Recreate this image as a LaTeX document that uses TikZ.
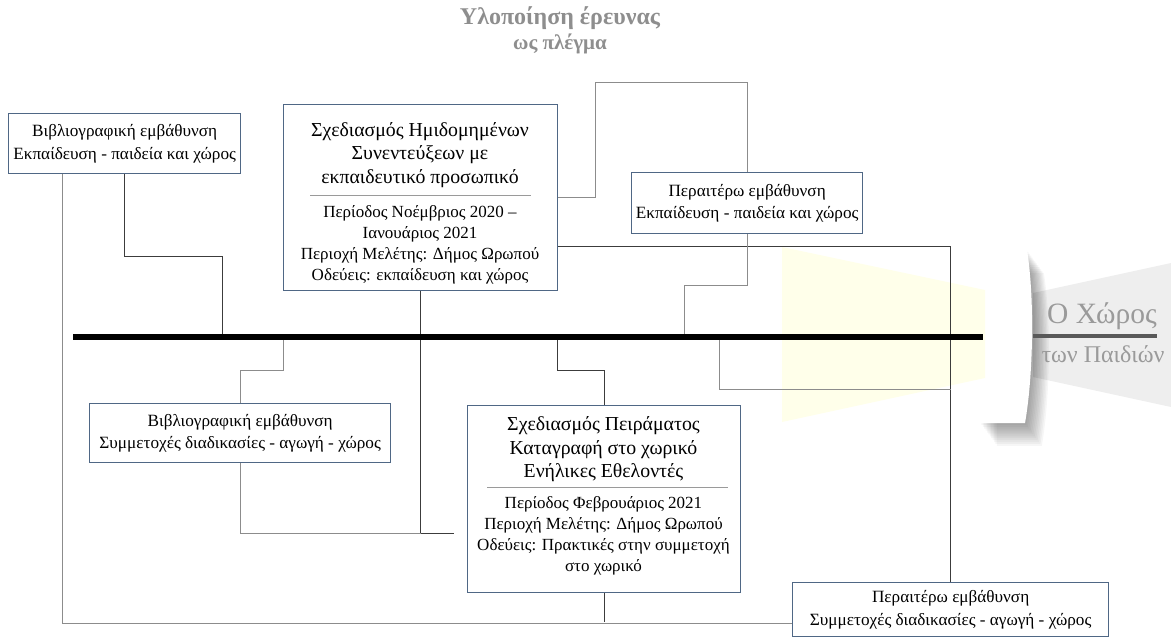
\documentclass[tikz,border=0pt]{standalone}
\usepackage{fontspec}
\setmainfont{Liberation Serif}
\usetikzlibrary{calc}
\definecolor{boxc}{HTML}{4F6785}
\definecolor{lg}{HTML}{8C8C8C}
\definecolor{dg}{HTML}{3C3C3C}
\definecolor{ttl}{HTML}{8E8E8E}
\definecolor{yel}{HTML}{FFFFEA}
\definecolor{rgr}{HTML}{EEEEEE}
\definecolor{sepc}{HTML}{9A9A9A}
\begin{document}
\begin{tikzpicture}[x=1pt,y=-1pt,
  box/.style={draw=boxc, line width=1.3pt, fill=white, inner sep=0pt, align=center, anchor=north west},
  gl/.style={draw=lg, line width=1pt},
  dl/.style={draw=dg, line width=0.8pt},
  sm/.style={font=\fontsize{17.2}{22.5}\selectfont},
  big/.style={align=center, font=\fontsize{19.8}{23.5}\selectfont},
  det/.style={align=center, font=\fontsize{17}{21}\selectfont}]
\useasboundingbox (0,0) rectangle (1171,642);

% title
\node[font=\bfseries\fontsize{24}{28}\selectfont, text=ttl] (t1) at (560,18) {Υλοποίηση έρευνας};
\node[font=\bfseries\fontsize{21}{24}\selectfont, text=ttl] (t2) at (560,44) {ως πλέγμα};

% background shapes
\fill[yel] (782,247) -- (985,290) -- (985,378) -- (782,422) -- cycle;
\fill[rgr] (1033,293) -- (1171,263) -- (1171,407) -- (1033,377) -- cycle;
\foreach \i in {1,...,12}{
  \fill[black, opacity=0.035] ($(980,250)+(\i*1.4,\i*1.9)$) -- ++(47,0) .. controls +(8,50) and +(8,-45) .. ++(-2,173) -- ++(-45,0) -- cycle;
}
\fill[white] (980,250) -- (1027,250) .. controls (1035,300) and (1033,378) .. (1025,423) -- (980,423) -- cycle;
\fill[yel] (980,289) -- (985,290) -- (985,378) -- (980,379) -- cycle;

% main bar junctions
\coordinate (barL) at (73,337);
\coordinate (barR) at (983,337);
\coordinate (j1) at (222,337);
\coordinate (j2) at (283,337);
\coordinate (j3) at (557,337);
\coordinate (j4) at (684,337);
\coordinate (j5) at (719,337);
\coordinate (k1) at (0,533);
\coordinate (k2) at (0,622);
\coordinate (k3) at (0,389);

% boxes (positions)
\path
  node[box, sm, minimum width=232pt, minimum height=60pt] (b1) at (8,113) {Βιβλιογραφική εμβάθυνση\\Εκπαίδευση - παιδεία και χώρος}
  node[box, minimum width=274pt, minimum height=186pt] (b2) at (283,104) {}
  node[box, sm, minimum width=231pt, minimum height=61pt] (b3) at (631,172) {Περαιτέρω εμβάθυνση\\Εκπαίδευση - παιδεία και χώρος}
  node[box, sm, minimum width=301pt, minimum height=59pt] (b4) at (89,403) {Βιβλιογραφική εμβάθυνση\\Συμμετοχές διαδικασίες - αγωγή - χώρος}
  node[box, minimum width=273pt, minimum height=187pt] (b5) at (467,405) {}
  node[box, sm, minimum width=316pt, minimum height=54pt] (b6) at (792,582) {Περαιτέρω εμβάθυνση\\Συμμετοχές διαδικασίες - αγωγή - χώρος};

% connectors
\draw[gl] ($(b1.south west)+(54,0)$) |- ($(b6.south west)+(0,-14)$);
\draw[dl] ($(b1.south west)+(116,0)$) -- ++(0,82) -| (j1);
\draw[gl] ($(b2.north east)+(0,93)$) -- ++(37,0) |- ($(b3.north)+(0,-89)$) -- (b3.north);
\draw[dl] ($(b2.north east)+(0,142)$) -| (b6.north);
\draw[dl] (b2.south) |- ($(b5.north west)+(-13,128)$);
\draw[gl] (b4.south) |- (b2.south |- k1);
\draw[gl] (b4.north) -- ++(0,-33) -| (j2);
\draw[dl] (b5.north) -- ++(0,-35) -| (j3);
\draw[dl] (b5.south) -- (b5.south |- k2);
\draw[gl] (b3.south) -- ++(0,51) -| (j4);
\draw[gl] (j5) |- (b6.north |- k3);

\draw[line width=6pt, black] (barL) -- (barR);

% redraw boxes on top of connectors
\path
  node[box, sm, minimum width=232pt, minimum height=60pt] at (8,113) {Βιβλιογραφική εμβάθυνση\\Εκπαίδευση - παιδεία και χώρος}
  node[box, minimum width=274pt, minimum height=186pt] at (283,104) {}
  node[box, sm, minimum width=231pt, minimum height=61pt] at (631,172) {Περαιτέρω εμβάθυνση\\Εκπαίδευση - παιδεία και χώρος}
  node[box, sm, minimum width=301pt, minimum height=59pt] at (89,403) {Βιβλιογραφική εμβάθυνση\\Συμμετοχές διαδικασίες - αγωγή - χώρος}
  node[box, minimum width=273pt, minimum height=187pt] at (467,405) {}
  node[box, sm, minimum width=316pt, minimum height=54pt] at (792,582) {Περαιτέρω εμβάθυνση\\Συμμετοχές διαδικασίες - αγωγή - χώρος};

% contents of the large boxes
\node[big] (b2t) at (420,155) {Σχεδιασμός Ημιδομημένων\\Συνεντεύξεων με\\εκπαιδευτικό προσωπικό};
\draw[sepc, line width=0.8pt] ($(b2.north west)+(27,91)$) -- ($(b2.north east)+(-27,91)$);
\node[det] (b2d) at (420,245) {Περίοδος Νοέμβριος 2020 –\\Ιανουάριος 2021\\Περιοχή Μελέτης: Δήμος Ωρωπού\\Οδεύεις: εκπαίδευση και χώρος};

\node[big] (b5t) at (603.5,449.5) {Σχεδιασμός Πειράματος\\Καταγραφή στο χωρικό\\Ενήλικες Εθελοντές};
\draw[sepc, line width=0.8pt] ($(b5.north west)+(20,82)$) -- ($(b5.north east)+(-13,82)$);
\node[det] (b5d) at (603.5,536) {Περίοδος Φεβρουάριος 2021\\Περιοχή Μελέτης: Δήμος Ωρωπού\\Οδεύεις: Πρακτικές στην συμμετοχή\\στο χωρικό};

% right label
\node[text=sepc, font=\fontsize{29.5}{32}\selectfont] (x1) at (1102,316) {Ο Χώρος};
\draw[line width=4pt, color=dg!85] (1033,336) -- (1157,336);
\node[text=sepc, font=\fontsize{24}{26}\selectfont, anchor=west] (x2) at (1038,354) {των Παιδιών};
\end{tikzpicture}
\end{document}
